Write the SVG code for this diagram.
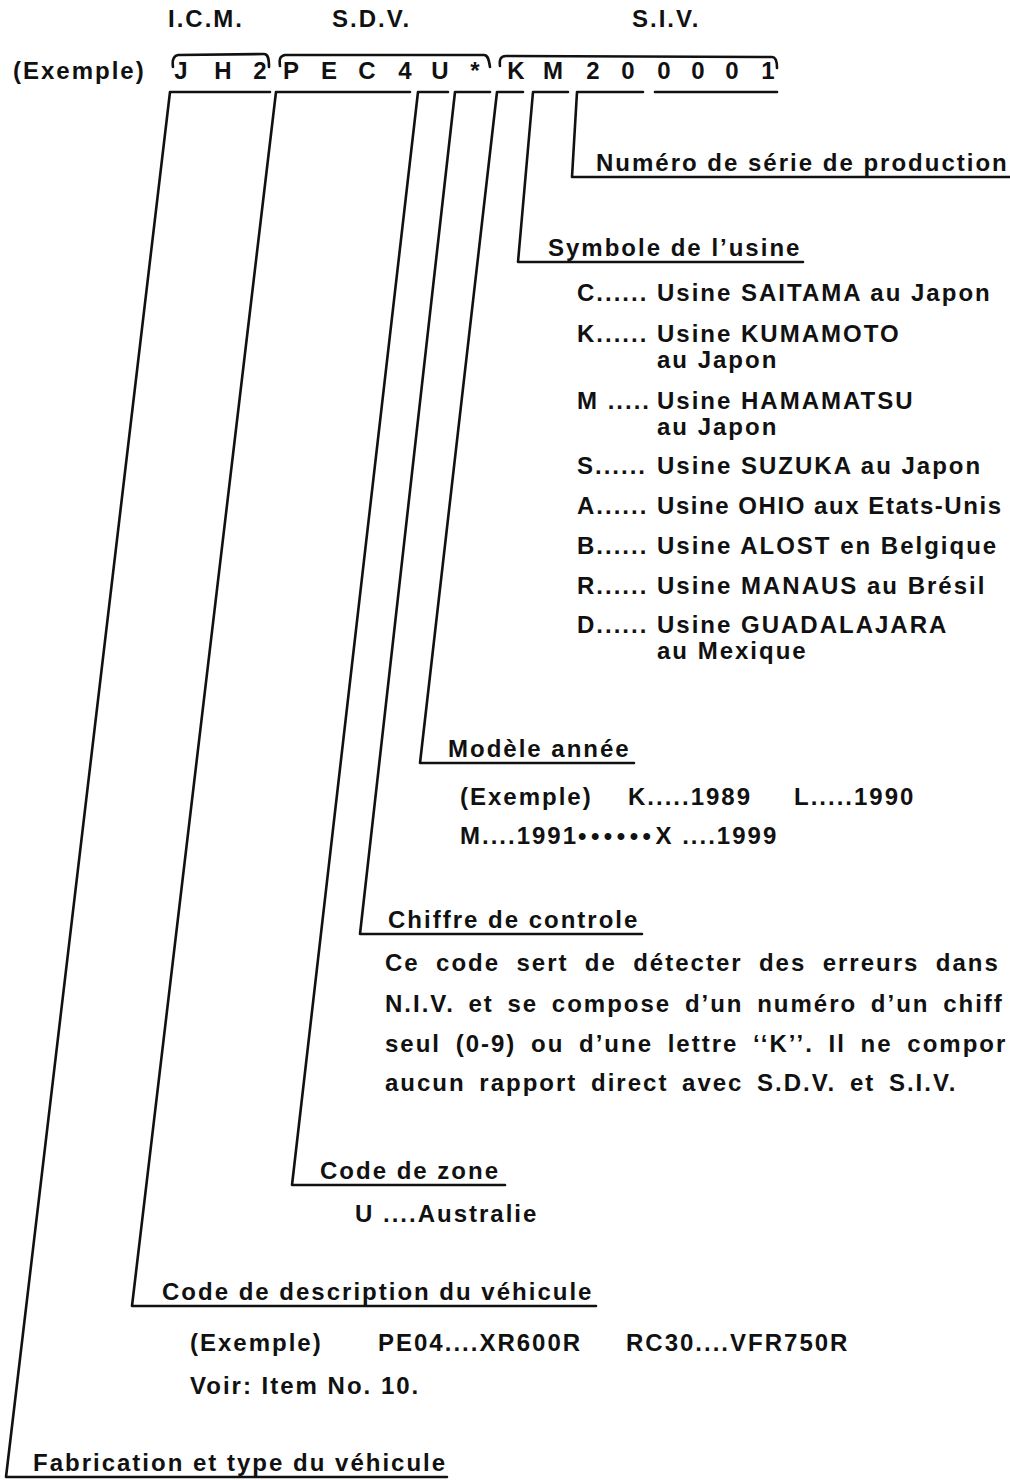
<svg xmlns="http://www.w3.org/2000/svg" width="1010" height="1480" viewBox="0 0 1010 1480">
<style>
.t{font-family:"Liberation Sans",Arial,Helvetica,sans-serif;font-weight:bold;font-size:24px;letter-spacing:2px;fill:#111}
.c{text-anchor:middle;letter-spacing:0}
.ln{fill:none;stroke:#111;stroke-width:2.6;stroke-linejoin:round;stroke-linecap:round}
.b{letter-spacing:4.5px}
</style>
<rect width="1010" height="1480" fill="#fff"/>

<g id="header">
<text class="t" x="168" y="27">I.C.M.</text>
<text class="t" x="332" y="27">S.D.V.</text>
<text class="t" x="632" y="27">S.I.V.</text>
</g>

<g id="vin">
<text class="t" x="13" y="79">(Exemple)</text>
<text class="t c" x="181" y="79">J</text>
<text class="t c" x="223" y="79">H</text>
<text class="t c" x="260" y="79">2</text>
<text class="t c" x="291" y="79">P</text>
<text class="t c" x="329" y="79">E</text>
<text class="t c" x="367" y="79">C</text>
<text class="t c" x="405" y="79">4</text>
<text class="t c" x="440" y="79">U</text>
<text class="t c" x="475" y="79">*</text>
<text class="t c" x="516" y="79">K</text>
<text class="t c" x="553" y="79">M</text>
<text class="t c" x="593" y="79">2</text>
<text class="t c" x="628" y="79">0</text>
<text class="t c" x="664" y="79">0</text>
<text class="t c" x="698" y="79">0</text>
<text class="t c" x="732" y="79">0</text>
<text class="t c" x="768" y="79">1</text>
</g>

<g id="connectors">
<path class="ln" d="M173,67 C172,60 173,56 178,55 L264,54 C268,54 269,58 269,67"/>
<path class="ln" d="M280,66 C279,59 280,56 285,55 L484,55 C488,55 489,60 490,67"/>
<path class="ln" d="M500,66 C499,59 501,56 506,56 L772,57 C776,57 777,62 777,68"/>
<path class="ln" d="M270,92 L170,92 L6,1477 L447,1477"/>
<path class="ln" d="M410,92 L276,92 L132,1306 L596,1306"/>
<path class="ln" d="M448,92 L418,92 L292,1185 L505,1185"/>
<path class="ln" d="M490,92 L455,92 L360,934 L642,934"/>
<path class="ln" d="M523,92 L497,92 L420,763 L634,763"/>
<path class="ln" d="M568,92 L533,92 L518,262 L803,262"/>
<path class="ln" d="M643,92 L577,92 L572,177 L1010,177"/>
<path class="ln" d="M655,92 L777,92"/>
</g>

<g id="serie">
<text class="t" x="596" y="171">Numéro de série de production</text>
</g>

<g id="usine">
<text class="t" x="548" y="256">Symbole de l’usine</text>
<text class="t" x="577" y="301">C......</text><text class="t" x="657" y="301">Usine SAITAMA au Japon</text>
<text class="t" x="577" y="342">K......</text><text class="t" x="657" y="342">Usine KUMAMOTO</text>
<text class="t" x="657" y="368">au Japon</text>
<text class="t" x="577" y="409">M .....</text><text class="t" x="657" y="409">Usine HAMAMATSU</text>
<text class="t" x="657" y="435">au Japon</text>
<text class="t" x="577" y="474">S......</text><text class="t" x="657" y="474">Usine SUZUKA au Japon</text>
<text class="t" x="577" y="514">A......</text><text class="t" x="657" y="514" textLength="346" lengthAdjust="spacing">Usine OHIO aux Etats-Unis</text>
<text class="t" x="577" y="554">B......</text><text class="t" x="657" y="554">Usine ALOST en Belgique</text>
<text class="t" x="577" y="594">R......</text><text class="t" x="657" y="594">Usine MANAUS au Brésil</text>
<text class="t" x="577" y="633">D......</text><text class="t" x="657" y="633">Usine GUADALAJARA</text>
<text class="t" x="657" y="659">au Mexique</text>
</g>

<g id="annee">
<text class="t" x="448" y="757">Modèle année</text>
<text class="t" x="460" y="805">(Exemple)</text>
<text class="t" x="628" y="805">K.....1989</text>
<text class="t" x="794" y="805">L.....1990</text>
<text class="t" x="460" y="844">M....1991<tspan class="b">••••••</tspan><tspan style="letter-spacing:2px">X ....1999</tspan></text>
</g>

<g id="controle">
<text class="t" x="388" y="928">Chiffre de controle</text>
<text class="t" x="385" y="971" word-spacing="7.7">Ce code sert de détecter des erreurs dans</text>
<text class="t" x="385" y="1012" word-spacing="5">N.I.V. et se compose d’un numéro d’un chiff</text>
<text class="t" x="385" y="1052" word-spacing="6">seul (0-9) ou d’une lettre ‘‘K’’. Il ne compor</text>
<text class="t" x="385" y="1091" word-spacing="5">aucun rapport direct avec S.D.V. et S.I.V.</text>
</g>

<g id="zone">
<text class="t" x="320" y="1179">Code de zone</text>
<text class="t" x="355" y="1222">U ....Australie</text>
</g>

<g id="description">
<text class="t" x="162" y="1300">Code de description du véhicule</text>
<text class="t" x="190" y="1351">(Exemple)</text>
<text class="t" x="378" y="1351">PE04....XR600R</text>
<text class="t" x="626" y="1351">RC30....VFR750R</text>
<text class="t" x="190" y="1394">Voir: Item No. 10.</text>
</g>

<g id="fabrication">
<text class="t" x="33" y="1471">Fabrication et type du véhicule</text>
</g>
</svg>
